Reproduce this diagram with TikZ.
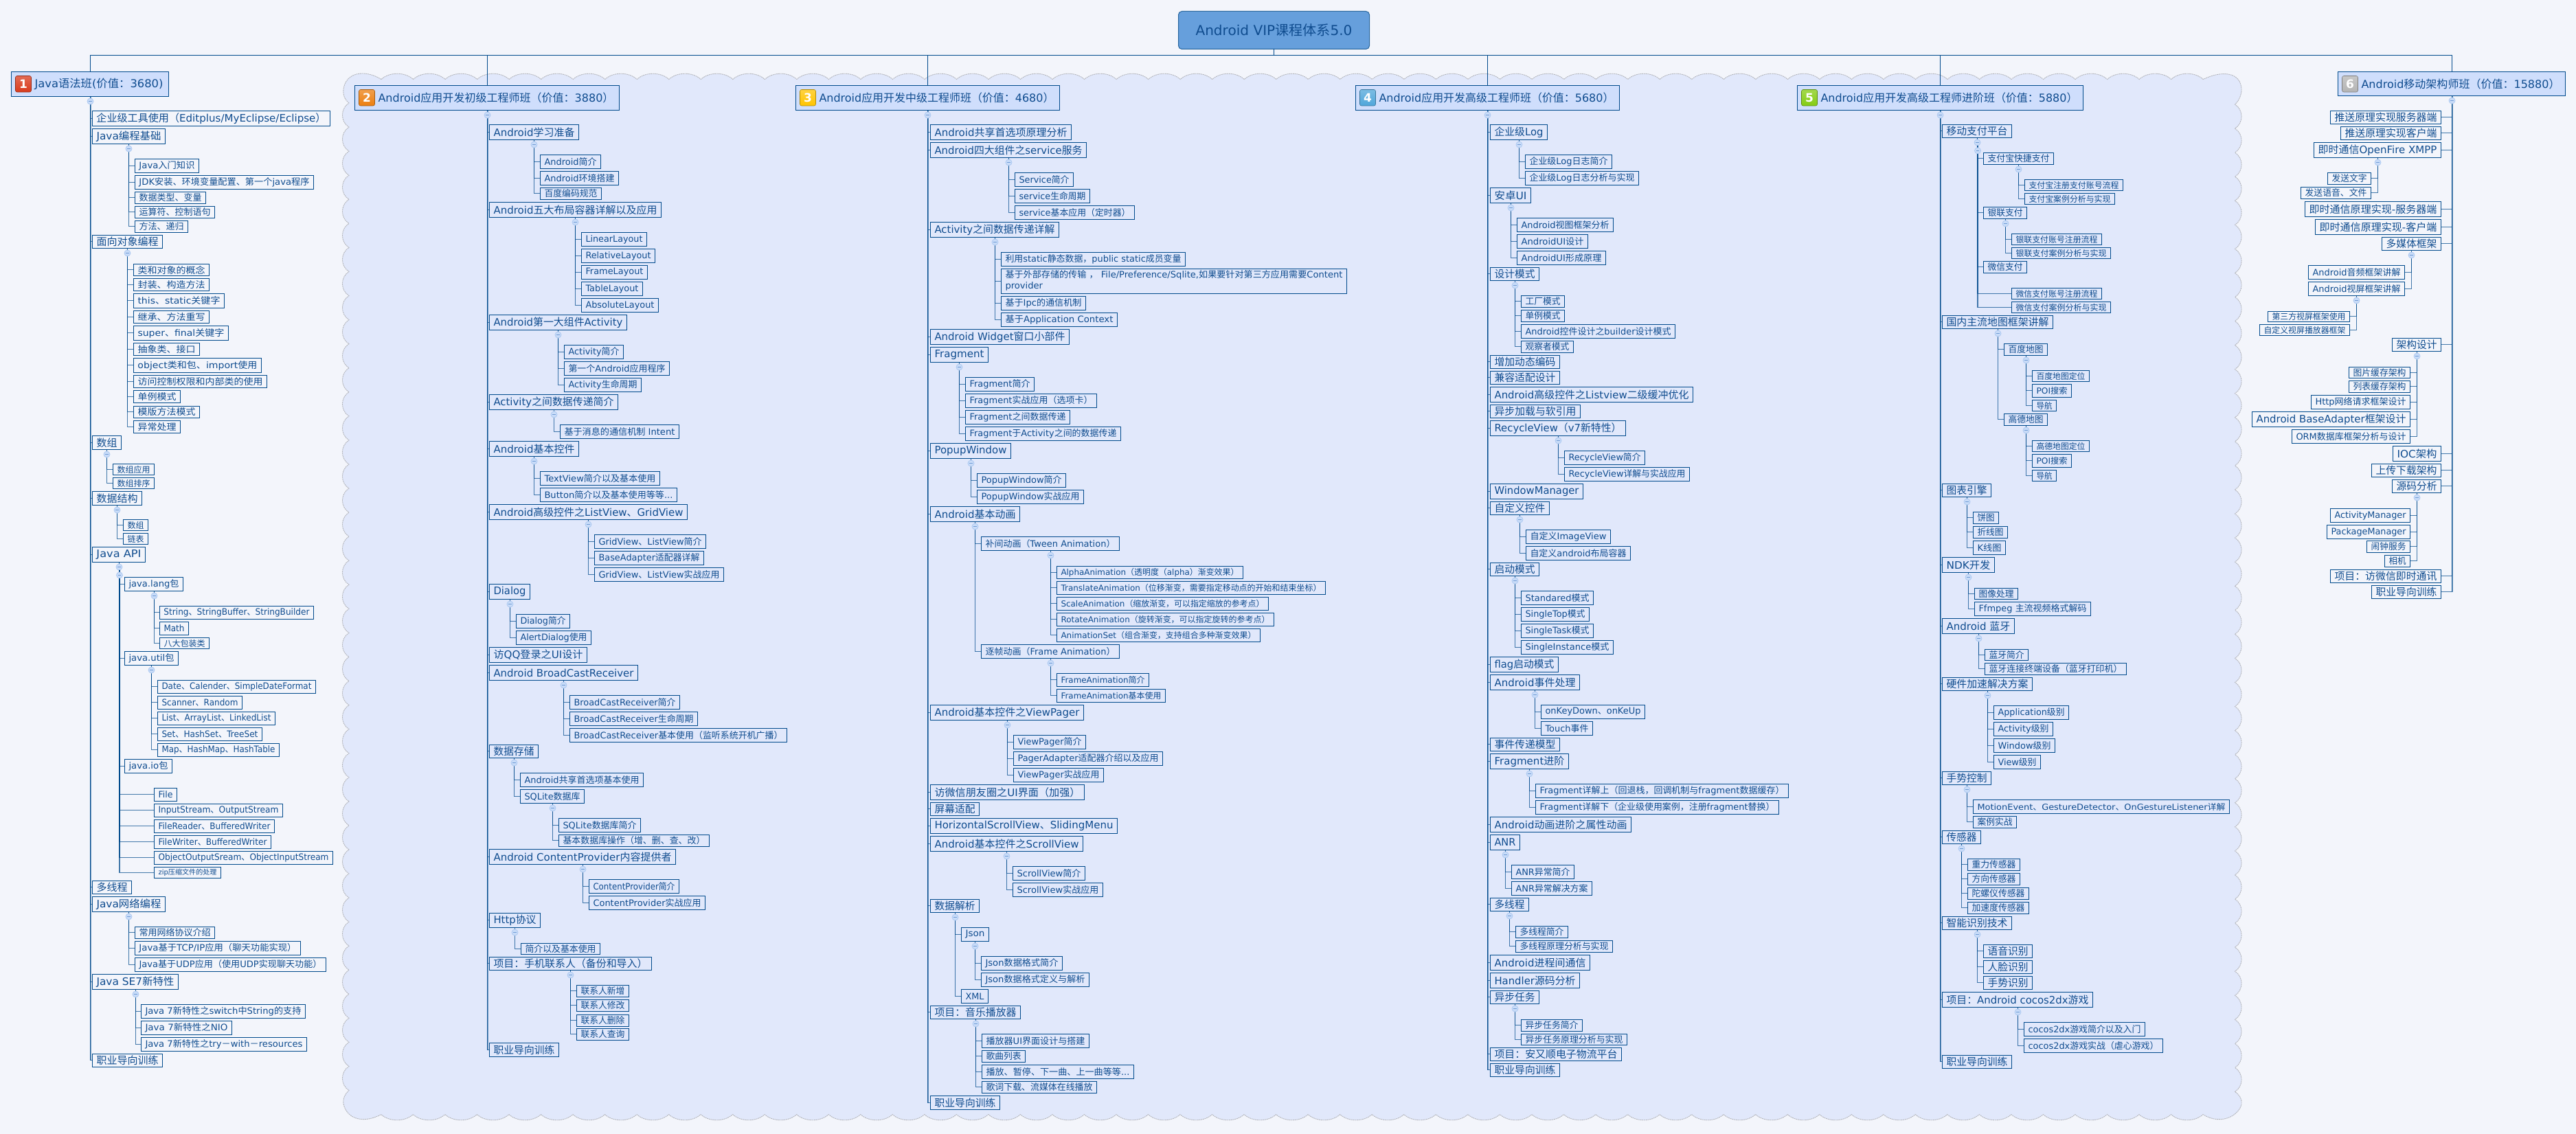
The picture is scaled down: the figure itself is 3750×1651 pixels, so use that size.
\documentclass[tikz,border=0pt]{standalone}
\usepackage{fontspec}
\usepackage{graphicx}
\usetikzlibrary{calc}
\setmainfont{DejaVu Sans}
\newfontfamily\lat{DejaVu Sans}
\newfontfamily\cjk{Noto Sans CJK SC}
\chardef\cjkcls=200
\count255="3000 \loop \XeTeXcharclass\count255=\cjkcls \ifnum\count255<"30FF \advance\count255 1 \repeat
\count255="4E00 \loop \XeTeXcharclass\count255=\cjkcls \ifnum\count255<"9FFF \advance\count255 1 \repeat
\count255="FF00 \loop \XeTeXcharclass\count255=\cjkcls \ifnum\count255<"FFEF \advance\count255 1 \repeat
\XeTeXinterchartokenstate=1
\XeTeXinterchartoks 0 \cjkcls={\cjk}
\XeTeXinterchartoks \cjkcls 0={\lat}
\XeTeXinterchartoks 4095 \cjkcls={\cjk}
\XeTeXinterchartoks \cjkcls 4095={\lat}
\definecolor{bgc}{HTML}{F3F5FB}
\definecolor{cloudf}{HTML}{E1E8FB}
\definecolor{cloudd}{HTML}{B4B6BC}
\definecolor{edge}{HTML}{004A8C}
\definecolor{txt}{HTML}{0F4C8F}
\definecolor{hfill}{HTML}{CFDEFC}
\definecolor{rootc}{HTML}{669FDC}
\definecolor{collb}{HTML}{A8C6F0}
\definecolor{collf}{HTML}{C9DCF8}
\definecolor{collm}{HTML}{6F9BD6}
\definecolor{ic1}{HTML}{D93A1C}
\definecolor{ic2}{HTML}{EC7F10}
\definecolor{ic3}{HTML}{FFC400}
\definecolor{ic4}{HTML}{4FA6DA}
\definecolor{ic5}{HTML}{84CC12}
\definecolor{ic6}{HTML}{B4B4B4}
\tikzset{
 bbox/.style={draw=edge,line width=1pt,anchor=north west,inner sep=0pt,outer sep=0pt,text=txt},
 hbox/.style={bbox,fill=hfill},
 rootbox/.style={draw=edge!85!white,line width=1pt,fill=rootc,rounded corners=5pt,anchor=north west,inner sep=0pt,outer sep=0pt,text=txt},
 icon/.style={draw=#1!70!black,line width=.6pt,rounded corners=2.5pt,anchor=north west,inner sep=0pt,outer sep=0pt,text=white,top color=#1!75!white,bottom color=#1},
 lnk/.style={draw=edge,line width=1.1pt,opacity=.72},
 lnkt/.style={draw=edge,line width=2pt,opacity=.55},
 busl/.style={draw=edge,line width=1pt},
 coll/.style={circle,minimum size=9pt,inner sep=0pt,draw=collb,fill=collf,line width=.7pt,
   path picture={\draw[collm,line width=.7pt] ([xshift=2.2pt]path picture bounding box.west) -- ([xshift=-2.2pt]path picture bounding box.east);}},
 cloudy/.style={fill=cloudf,draw=cloudd,line width=.9pt,dash pattern=on 2pt off .8pt}
}
\newcommand\fittext[3]{\begingroup\fontsize{#2}{\the\numexpr#2*6/5\relax}\selectfont\lat\resizebox{#1pt}{\height}{#3}\endgroup}
% snap a box to the pixel grid; remember how far its middle lies off the grid
\newcommand\snapbox[5]{%
 \pgfmathsetmacro\xa{floor(#2)+.5}\pgfmathsetmacro\ya{floor(#3)+.5}%
 \pgfmathsetmacro\xb{floor(#4)+.5}\pgfmathsetmacro\yb{floor(#5)+.5}%
 \pgfmathsetmacro\bw{\xb-\xa}\pgfmathsetmacro\bh{\yb-\ya}%
 \pgfmathsetmacro\sxv{ifthenelse(mod(\bw,2)>0.5,0.5,0)}%
 \pgfmathsetmacro\syv{ifthenelse(mod(\bh,2)>0.5,0.5,0)}%
 \expandafter\xdef\csname sx#1\endcsname{\sxv}%
 \expandafter\xdef\csname sy#1\endcsname{\syv}}
\newcommand\bx[7]{%
 \snapbox{#1}{#2}{#3}{#4}{#5}\pgfmathsetmacro\tw{\bw-12}%
 \node[bbox,minimum width=\bw pt,minimum height=\bh pt] (#1) at (\xa,\ya) {\fittext{\tw}{#6}{#7}};}
\newcommand\hd[8]{%
 \snapbox{#1}{#2}{#3}{#4}{#5}\pgfmathsetmacro\tw{\bw-42}%
 \node[hbox,minimum width=\bw pt,minimum height=\bh pt] (#1) at (\xa,\ya) {\makebox[\bw pt][l]{\hspace*{34pt}\fittext{\tw}{16}{#8}}};
 \node[icon=#6,minimum width=23pt,minimum height=23.5pt] (#1i) at ($(\xa,\ya)+(6,6)$) {\fontsize{17}{17}\selectfont\lat\bfseries #7};}
\newcommand\tiegen[4]{% parent, kids, kid anchor, extra trunk?
 \edef\sxx{\csname sx#1\endcsname}%
 \foreach \k in {#2}{%
   \edef\syy{\csname sy\k\endcsname}%
   \draw[lnk] ([xshift=\sxx pt]#1.south) |- ([yshift=\syy pt]\k.#3);
   \xdef\lastk{\k}}%
 \ifnum#4=1 \draw[lnkt] ([xshift=\sxx pt]#1.south) -- ([xshift=\sxx pt]#1.south |- \lastk.#3);\fi
 \path ([xshift=\sxx pt]#1.south) ++(0,7) node[coll] (#1c) {};}
\newcommand\tie[2]{\tiegen{#1}{#2}{west}{0}}
\newcommand\tiel[2]{\tiegen{#1}{#2}{east}{0}}
\newcommand\tietop[2]{\tiegen{#1}{#2}{west}{1}}
\newcommand\tietopl[2]{\tiegen{#1}{#2}{east}{1}}
\begin{document}
\begin{tikzpicture}[x=1pt,y=-1pt]
\useasboundingbox (0,0) rectangle (3750,1651);
\fill[bgc] (0,0) rectangle (3750,1651);
% cloud background
\path[cloudy] (555,115.5)
 \foreach \i in {1,...,57}{ .. controls +(12,-11) and +(-12,-11) .. ++(46.53,0) }
 .. controls (3235,102) and (3262,105) .. (3263,130) .. controls (3263,140) and (3258,148) .. (3253.5,152)
 \foreach \i in {1,...,41}{ .. controls +(12.7,8) and +(12.7,-8) .. ++(0,35.06) }
 .. controls (3260,1594) and (3264,1600) .. (3263,1607) .. controls (3261,1622) and (3235,1640) .. (3207,1622.5)
 \foreach \i in {1,...,57}{ .. controls +(-12,11) and +(12,11) .. ++(-46.53,0) }
 .. controls (530,1636) and (505,1630) .. (500,1607) .. controls (499,1598) and (503,1592) .. (508,1587.5)
 \foreach \i in {1,...,41}{ .. controls +(-12.7,-8) and +(-12.7,8) .. ++(0,-35.06) }
 .. controls (503,146) and (499,140) .. (500,130) .. controls (503,106) and (530,100) .. (555,115.5) -- cycle;
% root
\node[rootbox,minimum width=278pt,minimum height=55pt] (root) at (1715.5,16.5) {\fittext{228}{20}{Android VIP课程体系5.0}};
\coordinate (bus) at (1854.5,80.5);
% headers
\hd{h1}{16}{104}{245}{140}{ic1}{1}{Java语法班(价值：3680)}
\hd{h2}{516}{124}{901}{160}{ic2}{2}{Android应用开发初级工程师班（价值：3880）}
\hd{h3}{1158}{124}{1542.5}{160}{ic3}{3}{Android应用开发中级工程师班（价值：4680）}
\hd{h4}{1973}{124}{2357.5}{160}{ic4}{4}{Android应用开发高级工程师班（价值：5680）}
\hd{h5}{2616}{124}{3032}{160}{ic5}{5}{Android应用开发高级工程师进阶班（价值：5880）}
\hd{h6}{3403.5}{104}{3734}{139.5}{ic6}{6}{Android移动架构师班（价值：15880）}
\draw[busl] (root.south) -- (bus);
\foreach \h in {h1,h2,h3,h4,h5,h6}{\edef\sxx{\csname sx\h\endcsname}\draw[busl] (bus) -| ([xshift=\sxx pt]\h.north);}
% column 1
\bx{a1}{134}{161.5}{480}{183.5}{15}{企业级工具使用（Editplus/MyEclipse/Eclipse）}
\bx{a2}{134}{187.5}{240}{209.5}{15}{Java编程基础}
\bx{a2a}{196}{231.5}{289}{251.5}{13}{Java入门知识}
\bx{a2b}{196}{255.5}{456}{275.5}{13}{JDK安装、环境变量配置、第一个java程序}
\bx{a2c}{196}{279.5}{299}{296.5}{13}{数据类型、变量}
\bx{a2d}{196}{300}{312}{317.5}{13}{运算符、控制语句}
\bx{a2e}{196}{321.5}{273}{338.5}{13}{方法、递归}
\bx{a3}{134}{342.5}{236}{361.5}{15}{面向对象编程}
\bx{a3a}{194}{384}{304}{401.5}{13}{类和对象的概念}
\bx{a3b}{194}{405.5}{304}{423.5}{13}{封装、构造方法}
\bx{a3c}{194}{427.5}{326}{448.5}{13}{this、static关键字}
\bx{a3d}{194}{452.5}{304}{470.5}{13}{继承、方法重写}
\bx{a3e}{194}{474.5}{332}{495.5}{13}{super、final关键字}
\bx{a3f}{194}{499.5}{290}{517.5}{13}{抽象类、接口}
\bx{a3g}{194}{521.5}{380}{542.5}{13}{object类和包、import使用}
\bx{a3h}{194}{546.5}{388}{564}{13}{访问控制权限和内部类的使用}
\bx{a3i}{194}{568.5}{262}{586}{13}{单例模式}
\bx{a3j}{194}{591}{290}{608.5}{13}{模版方法模式}
\bx{a3k}{194}{612.5}{262}{630.5}{13}{异常处理}
\bx{a4}{134}{634.5}{176}{654}{15}{数组}
\bx{a4a}{164}{675}{224}{691.5}{12}{数组应用}
\bx{a4b}{164}{695}{224}{711.5}{12}{数组排序}
\bx{a5}{134}{715.5}{206}{735}{15}{数据结构}
\bx{a5a}{179}{756.5}{215}{772.5}{12}{数组}
\bx{a5b}{179}{776}{215}{792.5}{12}{链表}
\bx{a6}{134}{796.5}{211}{818.5}{15}{Java API}
\bx{a6a}{181}{840.5}{266}{860.5}{13}{java.lang包}
\bx{a6aa}{232}{882.5}{456}{901.5}{13}{String、StringBuffer、StringBuilder}
\bx{a6ab}{232}{905.5}{274}{924.5}{13}{Math}
\bx{a6ac}{232}{928}{304}{944.5}{12}{八大包装类}
\bx{a6b}{181}{948}{259}{968.5}{13}{java.util包}
\bx{a6ba}{229}{990.5}{459}{1009.5}{13}{Date、Calender、SimpleDateFormat}
\bx{a6bb}{229}{1013.5}{352}{1032.5}{13}{Scanner、Random}
\bx{a6bc}{229}{1036}{400}{1055.5}{13}{List、ArrayList、LinkedList}
\bx{a6bd}{229}{1059.5}{381}{1078.5}{13}{Set、HashSet、TreeSet}
\bx{a6be}{229}{1082.5}{406}{1101.5}{13}{Map、HashMap、HashTable}
\bx{a6c}{181}{1105.5}{250}{1125}{13}{java.io包}
\bx{a6ca}{224}{1147.5}{257}{1166.5}{13}{File}
\bx{a6cb}{224}{1170.5}{411}{1189.5}{13}{InputStream、OutputStream}
\bx{a6cc}{224}{1193}{399}{1212}{13}{FileReader、BufferedWriter}
\bx{a6cd}{224}{1216.5}{394}{1235.5}{13}{FileWriter、BufferedWriter}
\bx{a6ce}{224}{1239}{484}{1258}{13}{ObjectOutputSream、ObjectInputStream}
\bx{a6cf}{224}{1262}{321}{1278.5}{10}{zip压缩文件的处理}
\bx{a7}{134}{1282.5}{191}{1301.5}{15}{多线程}
\bx{a8}{134}{1305.5}{240}{1327.5}{15}{Java网络编程}
\bx{a8a}{196}{1349}{312}{1366.5}{13}{常用网络协议介绍}
\bx{a8b}{196}{1370.5}{437}{1390}{13}{Java基于TCP/IP应用（聊天功能实现）}
\bx{a8c}{196}{1394.5}{474}{1414}{13}{Java基于UDP应用（使用UDP实现聊天功能）}
\bx{a9}{134}{1418.5}{259}{1440.5}{15}{Java SE7新特性}
\bx{a9a}{205}{1462.5}{444}{1482.5}{13}{Java 7新特性之switch中String的支持}
\bx{a9b}{205}{1486}{337}{1506.5}{13}{Java 7新特性之NIO}
\bx{a9c}{205}{1510}{446}{1530}{13}{Java 7新特性之try－with－resources}
\bx{a10}{134}{1534.5}{236}{1553.5}{15}{职业导向训练}
\tietop{h1}{a1,a2,a3,a4,a5,a6,a7,a8,a9,a10}
\tie{a2}{a2a,a2b,a2c,a2d,a2e}
\tie{a3}{a3a,a3b,a3c,a3d,a3e,a3f,a3g,a3h,a3i,a3j,a3k}
\tie{a4}{a4a,a4b}
\tie{a5}{a5a,a5b}
\tie{a6}{a6a,a6b,a6c}
\tie{a6a}{a6aa,a6ab,a6ac}
\tie{a6b}{a6ba,a6bb,a6bc,a6bd,a6be}
\tie{a6c}{a6ca,a6cb,a6cc,a6cd,a6ce,a6cf}
\tie{a8}{a8a,a8b,a8c}
\tie{a9}{a9a,a9b,a9c}
% column 2
\bx{b1}{712.5}{181.5}{842.5}{203.5}{15}{Android学习准备}
\bx{b1a}{786}{225.5}{874.5}{245.5}{13}{Android简介}
\bx{b1b}{786}{249.5}{900.5}{269.5}{13}{Android环境搭建}
\bx{b1c}{786}{273.5}{875.5}{290}{13}{百度编码规范}
\bx{b2}{712.5}{294.5}{962.5}{316.5}{15}{Android五大布局容器详解以及应用}
\bx{b2a}{846.5}{338.5}{941.5}{358.5}{13}{LinearLayout}
\bx{b2b}{846.5}{362.5}{953.5}{382.5}{13}{RelativeLayout}
\bx{b2c}{846.5}{386.5}{942.5}{406.5}{13}{FrameLayout}
\bx{b2d}{846.5}{410.5}{935.5}{430.5}{13}{TableLayout}
\bx{b2e}{846.5}{434.5}{958.5}{454.5}{13}{AbsoluteLayout}
\bx{b3}{712.5}{458.5}{912.5}{480.5}{15}{Android第一大组件Activity}
\bx{b3a}{821.5}{502.5}{907.5}{522.5}{13}{Activity简介}
\bx{b3b}{821.5}{526.5}{974.5}{546.5}{13}{第一个Android应用程序}
\bx{b3c}{821.5}{550.5}{933.5}{570.5}{13}{Activity生命周期}
\bx{b4}{712.5}{574.5}{899.5}{596.5}{15}{Activity之间数据传递简介}
\bx{b4a}{815}{618.5}{988.5}{638.5}{13}{基于消息的通信机制 Intent}
\bx{b5}{712.5}{642.5}{842.5}{664.5}{15}{Android基本控件}
\bx{b5a}{786}{686.5}{960.5}{706.5}{13}{TextView简介以及基本使用}
\bx{b5b}{786}{710.5}{985.5}{730.5}{13}{Button简介以及基本使用等等...}
\bx{b6}{712.5}{734.5}{1000.5}{756.5}{15}{Android高级控件之ListView、GridView}
\bx{b6a}{865.5}{778.5}{1027.5}{798.5}{13}{GridView、ListView简介}
\bx{b6b}{865.5}{802.5}{1024.5}{822.5}{13}{BaseAdapter适配器详解}
\bx{b6c}{865.5}{826.5}{1053.5}{846.5}{13}{GridView、ListView实战应用}
\bx{b7}{712.5}{850.5}{771.5}{872.5}{15}{Dialog}
\bx{b7a}{751.5}{894.5}{829.5}{914.5}{13}{Dialog简介}
\bx{b7b}{751.5}{918.5}{860.5}{938.5}{13}{AlertDialog使用}
\bx{b8}{712.5}{942.5}{854.5}{964.5}{15}{访QQ登录之UI设计}
\bx{b9}{712.5}{968.5}{928.5}{990.5}{15}{Android BroadCastReceiver}
\bx{b9a}{829.5}{1012.5}{989.5}{1032.5}{13}{BroadCastReceiver简介}
\bx{b9b}{829.5}{1036.5}{1015.5}{1056.5}{13}{BroadCastReceiver生命周期}
\bx{b9c}{829.5}{1060.5}{1145.5}{1080.5}{13}{BroadCastReceiver基本使用（监听系统开机广播）}
\bx{b10}{712.5}{1084.5}{783.5}{1103.5}{15}{数据存储}
\bx{b10a}{757.5}{1125.5}{936.5}{1145.5}{13}{Android共享首选项基本使用}
\bx{b10b}{757.5}{1149.5}{850.5}{1169.5}{13}{SQLite数据库}
\bx{b10ba}{813.5}{1191.5}{932.5}{1211.5}{13}{SQLite数据库简介}
\bx{b10bb}{813.5}{1215.5}{1032.5}{1232.5}{13}{基本数据库操作（增、删、查、改）}
\bx{b11}{712.5}{1236.5}{983.5}{1258.5}{15}{Android ContentProvider内容提供者}
\bx{b11a}{857.5}{1280.5}{988.5}{1300.5}{13}{ContentProvider简介}
\bx{b11b}{857.5}{1304.5}{1026.5}{1324.5}{13}{ContentProvider实战应用}
\bx{b12}{712.5}{1329}{786.5}{1350.5}{15}{Http协议}
\bx{b12a}{758.5}{1373}{873.5}{1389.5}{13}{简介以及基本使用}
\bx{b13}{712.5}{1393.5}{948.5}{1412.5}{15}{项目：手机联系人（备份和导入）}
\bx{b13a}{839}{1434.5}{915.5}{1451.5}{13}{联系人新增}
\bx{b13b}{839}{1455.5}{915.5}{1472.5}{13}{联系人修改}
\bx{b13c}{839}{1477}{915.5}{1494}{13}{联系人删除}
\bx{b13d}{839}{1497.5}{915.5}{1514.5}{13}{联系人查询}
\bx{b14}{712.5}{1518.5}{813.5}{1538}{15}{职业导向训练}
\tietop{h2}{b1,b2,b3,b4,b5,b6,b7,b8,b9,b10,b11,b12,b13,b14}
\tie{b1}{b1a,b1b,b1c}
\tie{b2}{b2a,b2b,b2c,b2d,b2e}
\tie{b3}{b3a,b3b,b3c}
\tie{b4}{b4a}
\tie{b5}{b5a,b5b}
\tie{b6}{b6a,b6b,b6c}
\tie{b7}{b7a,b7b}
\tie{b9}{b9a,b9b,b9c}
\tie{b10}{b10a,b10b}
\tie{b10b}{b10ba,b10bb}
\tie{b11}{b11a,b11b}
\tie{b12}{b12a}
\tie{b13}{b13a,b13b,b13c,b13d}
% column 3
\bx{c1}{1354.5}{181.5}{1559}{203.5}{15}{Android共享首选项原理分析}
\bx{c2}{1354.5}{207.5}{1581.5}{229.5}{15}{Android四大组件之service服务}
\bx{c2a}{1477.5}{251.5}{1562.5}{271.5}{13}{Service简介}
\bx{c2b}{1477.5}{275.5}{1586.5}{295.5}{13}{service生命周期}
\bx{c2c}{1477.5}{299.5}{1651.5}{319.5}{13}{service基本应用（定时器）}
\bx{c3}{1354.5}{323.5}{1541.5}{345.5}{15}{Activity之间数据传递详解}
\bx{c3a}{1457.5}{367.5}{1725.5}{387.5}{13}{利用static静态数据，public static成员变量}
\bx{c3b}{1457.5}{391.5}{1960.5}{427.5}{13}{\begin{tabular}{@{}l@{}}基于外部存储的传输 ， File/Preference/Sqlite,如果要针对第三方应用需要Content\\provider\end{tabular}}
\bx{c3c}{1457.5}{431.5}{1580.5}{451.5}{13}{基于Ipc的通信机制}
\bx{c3d}{1457.5}{455.5}{1626.5}{475.5}{13}{基于Application Context}
\bx{c4}{1354.5}{479.5}{1556.5}{501.5}{15}{Android Widget窗口小部件}
\bx{c5}{1354.5}{505.5}{1438.5}{527.5}{15}{Fragment}
\bx{c5a}{1405.5}{549.5}{1505.5}{569.5}{13}{Fragment简介}
\bx{c5b}{1405.5}{573.5}{1596.5}{593.5}{13}{Fragment实战应用（选项卡）}
\bx{c5c}{1405.5}{597.5}{1557.5}{617.5}{13}{Fragment之间数据传递}
\bx{c5d}{1405.5}{621.5}{1631.5}{641.5}{13}{Fragment于Activity之间的数据传递}
\bx{c6}{1354.5}{645.5}{1471.5}{667.5}{15}{PopupWindow}
\bx{c6a}{1422.5}{689.5}{1551.5}{709.5}{13}{PopupWindow简介}
\bx{c6b}{1422.5}{713.5}{1577.5}{733.5}{13}{PopupWindow实战应用}
\bx{c7}{1354.5}{737.5}{1484.5}{759.5}{15}{Android基本动画}
\bx{c7a}{1428.5}{781.5}{1629}{801.5}{13}{补间动画（Tween Animation）}
\bx{c7aa}{1538.5}{824}{1809.5}{842.5}{12}{AlphaAnimation（透明度（alpha）渐变效果）}
\bx{c7ab}{1538.5}{846.5}{1929.5}{865.5}{12}{TranslateAnimation（位移渐变，需要指定移动点的开始和结束坐标）}
\bx{c7ac}{1538.5}{869.5}{1846.5}{888.5}{12}{ScaleAnimation（缩放渐变，可以指定缩放的参考点）}
\bx{c7ad}{1538.5}{892.5}{1854.5}{911.5}{12}{RotateAnimation（旋转渐变，可以指定旋转的参考点）}
\bx{c7ae}{1538.5}{915.5}{1834.5}{934.5}{12}{AnimationSet（组合渐变，支持组合多种渐变效果）}
\bx{c7b}{1428.5}{938.5}{1629}{958.5}{13}{逐帧动画（Frame Animation）}
\bx{c7ba}{1538.5}{980.5}{1672.5}{999.5}{12}{FrameAnimation简介}
\bx{c7bb}{1538.5}{1003.5}{1696.5}{1022.5}{12}{FrameAnimation基本使用}
\bx{c8}{1354.5}{1026.5}{1577.5}{1048.5}{15}{Android基本控件之ViewPager}
\bx{c8a}{1475}{1070.5}{1580.5}{1090.5}{13}{ViewPager简介}
\bx{c8b}{1475}{1094.5}{1692.5}{1114.5}{13}{PagerAdapter适配器介绍以及应用}
\bx{c8c}{1475}{1118.5}{1606.5}{1138.5}{13}{ViewPager实战应用}
\bx{c9}{1354.5}{1142.5}{1578}{1164.5}{15}{访微信朋友圈之UI界面（加强）}
\bx{c10}{1354.5}{1168.5}{1425.5}{1187.5}{15}{屏幕适配}
\bx{c11}{1354.5}{1191.5}{1626.5}{1213.5}{15}{HorizontalScrollView、SlidingMenu}
\bx{c12}{1354.5}{1217.5}{1576.5}{1239.5}{15}{Android基本控件之ScrollView}
\bx{c12a}{1474.5}{1261.5}{1579.5}{1281.5}{13}{ScrollView简介}
\bx{c12b}{1474.5}{1285.5}{1605.5}{1305.5}{13}{ScrollView实战应用}
\bx{c13}{1354.5}{1309.5}{1425.5}{1328.5}{15}{数据解析}
\bx{c13a}{1399.5}{1350.5}{1439.5}{1370.5}{13}{Json}
\bx{c13aa}{1428.5}{1392.5}{1546}{1412.5}{13}{Json数据格式简介}
\bx{c13ab}{1428.5}{1416.5}{1585}{1436.5}{13}{Json数据格式定义与解析}
\bx{c13b}{1399.5}{1440.5}{1438.5}{1460.5}{13}{XML}
\bx{c14}{1354.5}{1464.5}{1485.5}{1483.5}{15}{项目：音乐播放器}
\bx{c14a}{1429.5}{1505.5}{1585}{1525.5}{13}{播放器UI界面设计与搭建}
\bx{c14b}{1429.5}{1529.5}{1492.5}{1546}{13}{歌曲列表}
\bx{c14c}{1429.5}{1550.5}{1650.5}{1570.5}{13}{播放、暂停、下一曲、上一曲等等...}
\bx{c14d}{1429.5}{1574.5}{1596.5}{1591}{13}{歌词下载、流媒体在线播放}
\bx{c15}{1354.5}{1595.5}{1455}{1615}{15}{职业导向训练}
\tietop{h3}{c1,c2,c3,c4,c5,c6,c7,c8,c9,c10,c11,c12,c13,c14,c15}
\tie{c2}{c2a,c2b,c2c}
\tie{c3}{c3a,c3b,c3c,c3d}
\tie{c5}{c5a,c5b,c5c,c5d}
\tie{c6}{c6a,c6b}
\tie{c7}{c7a,c7b}
\tie{c7a}{c7aa,c7ab,c7ac,c7ad,c7ae}
\tie{c7b}{c7ba,c7bb}
\tie{c8}{c8a,c8b,c8c}
\tie{c12}{c12a,c12b}
\tie{c13}{c13a,c13b}
\tie{c13a}{c13aa,c13ab}
\tie{c14}{c14a,c14b,c14c,c14d}
% column 4
\bx{d1}{2169.5}{181.5}{2252.5}{203.5}{15}{企业级Log}
\bx{d1a}{2220.5}{225.5}{2346.5}{245.5}{13}{企业级Log日志简介}
\bx{d1b}{2220.5}{249.5}{2385.5}{269.5}{13}{企业级Log日志分析与实现}
\bx{d2}{2169.5}{273.5}{2228.5}{295.5}{15}{安卓UI}
\bx{d2a}{2208.5}{317.5}{2348.5}{337.5}{13}{Android视图框架分析}
\bx{d2b}{2208.5}{341.5}{2311.5}{361.5}{13}{AndroidUI设计}
\bx{d2c}{2208.5}{365.5}{2337.5}{385.5}{13}{AndroidUI形成原理}
\bx{d3}{2169.5}{389.5}{2240.5}{408.5}{15}{设计模式}
\bx{d3a}{2214.5}{430.5}{2277.5}{447.5}{13}{工厂模式}
\bx{d3b}{2214.5}{451.5}{2277.5}{468.5}{13}{单例模式}
\bx{d3c}{2214.5}{472.5}{2438.5}{492.5}{13}{Android控件设计之builder设计模式}
\bx{d3d}{2214.5}{496.5}{2290.5}{513.5}{13}{观察者模式}
\bx{d4}{2169.5}{517.5}{2270.5}{536.5}{15}{增加动态编码}
\bx{d5}{2169.5}{540.5}{2270.5}{559.5}{15}{兼容适配设计}
\bx{d6}{2169.5}{563.5}{2464.5}{585.5}{15}{Android高级控件之Listview二级缓冲优化}
\bx{d7}{2169.5}{589.5}{2300.5}{608.5}{15}{异步加载与软引用}
\bx{d8}{2169.5}{612.5}{2366.5}{634.5}{15}{RecycleView（v7新特性）}
\bx{d8a}{2277.5}{656.5}{2394.5}{676.5}{13}{RecycleView简介}
\bx{d8b}{2277.5}{680.5}{2459.5}{700.5}{13}{RecycleView详解与实战应用}
\bx{d9}{2169.5}{704.5}{2304.5}{726.5}{15}{WindowManager}
\bx{d10}{2169.5}{730.5}{2255.5}{749.5}{15}{自定义控件}
\bx{d10a}{2221.5}{771.5}{2344.5}{791.5}{13}{自定义ImageView}
\bx{d10b}{2221.5}{795.5}{2373.5}{815.5}{13}{自定义android布局容器}
\bx{d11}{2169.5}{819.5}{2240.5}{838.5}{15}{启动模式}
\bx{d11a}{2214.5}{860.5}{2319.5}{880.5}{13}{Standared模式}
\bx{d11b}{2214.5}{884.5}{2313.5}{904.5}{13}{SingleTop模式}
\bx{d11c}{2214.5}{908.5}{2319.5}{928.5}{13}{SingleTask模式}
\bx{d11d}{2214.5}{932.5}{2348.5}{952.5}{13}{SingleInstance模式}
\bx{d12}{2169.5}{956.5}{2268.5}{978.5}{15}{flag启动模式}
\bx{d13}{2169.5}{982.5}{2299.5}{1004.5}{15}{Android事件处理}
\bx{d13a}{2243.5}{1026.5}{2394.5}{1046.5}{13}{onKeyDown、onKeUp}
\bx{d13b}{2243.5}{1050.5}{2318.5}{1070.5}{13}{Touch事件}
\bx{d14}{2169.5}{1074.5}{2270.5}{1093.5}{15}{事件传递模型}
\bx{d15}{2169.5}{1097.5}{2283.5}{1119.5}{15}{Fragment进阶}
\bx{d15a}{2235.5}{1141.5}{2603}{1161.5}{13}{Fragment详解上（回退栈，回调机制与fragment数据缓存）}
\bx{d15b}{2235.5}{1165.5}{2589.5}{1185.5}{13}{Fragment详解下（企业级使用案例，注册fragment替换）}
\bx{d16}{2169.5}{1189.5}{2374.5}{1211.5}{15}{Android动画进阶之属性动画}
\bx{d17}{2169.5}{1215.5}{2212.5}{1237.5}{15}{ANR}
\bx{d17a}{2200.5}{1259.5}{2291.5}{1279.5}{13}{ANR异常简介}
\bx{d17b}{2200.5}{1283.5}{2317.5}{1303.5}{13}{ANR异常解决方案}
\bx{d18}{2169.5}{1307.5}{2225.5}{1326.5}{15}{多线程}
\bx{d18a}{2206.5}{1348.5}{2282.5}{1365.5}{13}{多线程简介}
\bx{d18b}{2206.5}{1369.5}{2347.5}{1386.5}{13}{多线程原理分析与实现}
\bx{d19}{2169.5}{1390.5}{2314.5}{1412.5}{15}{Android进程间通信}
\bx{d20}{2169.5}{1416.5}{2299.5}{1438.5}{15}{Handler源码分析}
\bx{d21}{2169.5}{1442.5}{2240.5}{1461.5}{15}{异步任务}
\bx{d21a}{2214.5}{1484}{2303.5}{1501}{13}{异步任务简介}
\bx{d21b}{2214.5}{1505}{2368.5}{1521.5}{13}{异步任务原理分析与实现}
\bx{d22}{2169.5}{1525.5}{2360.5}{1544.5}{15}{项目：安又顺电子物流平台}
\bx{d23}{2169.5}{1548.5}{2270.5}{1567.5}{15}{职业导向训练}
\tietop{h4}{d1,d2,d3,d4,d5,d6,d7,d8,d9,d10,d11,d12,d13,d14,d15,d16,d17,d18,d19,d20,d21,d22,d23}
\tie{d1}{d1a,d1b}
\tie{d2}{d2a,d2b,d2c}
\tie{d3}{d3a,d3b,d3c,d3d}
\tie{d8}{d8a,d8b}
\tie{d10}{d10a,d10b}
\tie{d11}{d11a,d11b,d11c,d11d}
\tie{d13}{d13a,d13b}
\tie{d15}{d15a,d15b}
\tie{d17}{d17a,d17b}
\tie{d18}{d18a,d18b}
\tie{d21}{d21a,d21b}
% column 5
\bx{e1}{2827.5}{181.5}{2928.5}{200.5}{15}{移动支付平台}
\bx{e1a}{2887.5}{222.5}{2989.5}{239.5}{13}{支付宝快捷支付}
\bx{e1aa}{2947.5}{261.5}{3090.5}{277.5}{12}{支付宝注册支付账号流程}
\bx{e1ab}{2947.5}{281.5}{3078.5}{297.5}{12}{支付宝案例分析与实现}
\bx{e1b}{2887.5}{301.5}{2950.5}{318.5}{13}{银联支付}
\bx{e1ba}{2928}{340.5}{3059.5}{356.5}{12}{银联支付账号注册流程}
\bx{e1bb}{2928}{360.5}{3072}{376.5}{12}{银联支付案例分析与实现}
\bx{e1c}{2887.5}{380.5}{2950.5}{397.5}{13}{微信支付}
\bx{e1ca}{2928}{419.5}{3059.5}{435.5}{12}{微信支付账号注册流程}
\bx{e1cb}{2928}{439.5}{3072}{455.5}{12}{微信支付案例分析与实现}
\bx{e2}{2827.5}{459.5}{2988.5}{478.5}{15}{国内主流地图框架讲解}
\bx{e2a}{2917.5}{500.5}{2980.5}{517.5}{13}{百度地图}
\bx{e2aa}{2958}{539.5}{3041.5}{555.5}{12}{百度地图定位}
\bx{e2ab}{2958}{559.5}{3015.5}{578.5}{12}{POI搜索}
\bx{e2ac}{2958}{582.5}{2993.5}{598.5}{12}{导航}
\bx{e2b}{2917.5}{602.5}{2980.5}{619.5}{13}{高德地图}
\bx{e2ba}{2958}{641.5}{3041.5}{657.5}{12}{高德地图定位}
\bx{e2bb}{2958}{661.5}{3015.5}{680.5}{12}{POI搜索}
\bx{e2bc}{2958}{684.5}{2993.5}{700.5}{12}{导航}
\bx{e3}{2827.5}{704.5}{2898.5}{723.5}{15}{图表引擎}
\bx{e3a}{2872.5}{745.5}{2909.5}{762.5}{13}{饼图}
\bx{e3b}{2872.5}{766.5}{2922.5}{783.5}{13}{折线图}
\bx{e3c}{2872.5}{787.5}{2919.5}{807.5}{13}{K线图}
\bx{e4}{2827.5}{811.5}{2903}{833.5}{15}{NDK开发}
\bx{e4a}{2874.5}{856}{2937.5}{872.5}{13}{图像处理}
\bx{e4b}{2874.5}{876.5}{3043.5}{896.5}{13}{Ffmpeg 主流视频格式解码}
\bx{e5}{2827.5}{900.5}{2932.5}{922.5}{15}{Android 蓝牙}
\bx{e5a}{2889.5}{945}{2952.5}{961.5}{13}{蓝牙简介}
\bx{e5b}{2889.5}{965.5}{3095.5}{982.5}{13}{蓝牙连接终端设备（蓝牙打印机）}
\bx{e6}{2827.5}{986.5}{2958.5}{1005.5}{15}{硬件加速解决方案}
\bx{e6a}{2902.5}{1027.5}{3011.5}{1047.5}{13}{Application级别}
\bx{e6b}{2902.5}{1051.5}{2988.5}{1071.5}{13}{Activity级别}
\bx{e6c}{2902.5}{1075.5}{2991.5}{1095.5}{13}{Window级别}
\bx{e6d}{2902.5}{1099.5}{2970.5}{1119.5}{13}{View级别}
\bx{e7}{2827.5}{1123.5}{2898.5}{1142.5}{15}{手势控制}
\bx{e7a}{2872.5}{1164.5}{3245.5}{1184.5}{12}{MotionEvent、GestureDetector、OnGestureListener详解}
\bx{e7b}{2872.5}{1188.5}{2935.5}{1205.5}{13}{案例实战}
\bx{e8}{2827.5}{1209.5}{2883.5}{1228.5}{15}{传感器}
\bx{e8a}{2864.5}{1250.5}{2940.5}{1267.5}{13}{重力传感器}
\bx{e8b}{2864.5}{1271.5}{2940.5}{1288.5}{13}{方向传感器}
\bx{e8c}{2864.5}{1292.5}{2953.5}{1309.5}{13}{陀螺仪传感器}
\bx{e8d}{2864.5}{1313.5}{2953.5}{1330.5}{13}{加速度传感器}
\bx{e9}{2827.5}{1334.5}{2928.5}{1353.5}{15}{智能识别技术}
\bx{e9a}{2887.5}{1375.5}{2958.5}{1394.5}{15}{语音识别}
\bx{e9b}{2887.5}{1398.5}{2958.5}{1417.5}{15}{人脸识别}
\bx{e9c}{2887.5}{1421.5}{2958.5}{1440.5}{15}{手势识别}
\bx{e10}{2827.5}{1444.5}{3046.5}{1466.5}{15}{项目：Android cocos2dx游戏}
\bx{e10a}{2946.5}{1488.5}{3122.5}{1508.5}{13}{cocos2dx游戏简介以及入门}
\bx{e10b}{2946.5}{1512.5}{3148.5}{1532.5}{13}{cocos2dx游戏实战（虐心游戏）}
\bx{e11}{2827.5}{1536.5}{2928.5}{1555.5}{15}{职业导向训练}
\tietop{h5}{e1,e2,e3,e4,e5,e6,e7,e8,e9,e10,e11}
\tie{e1}{e1a,e1b,e1c}
\tie{e1a}{e1aa,e1ab}
\tie{e1b}{e1ba,e1bb}
\tie{e1c}{e1ca,e1cb}
\tie{e2}{e2a,e2b}
\tie{e2a}{e2aa,e2ab,e2ac}
\tie{e2b}{e2ba,e2bb,e2bc}
\tie{e3}{e3a,e3b,e3c}
\tie{e4}{e4a,e4b}
\tie{e5}{e5a,e5b}
\tie{e6}{e6a,e6b,e6c,e6d}
\tie{e7}{e7a,e7b}
\tie{e8}{e8a,e8b,e8c,e8d}
\tie{e9}{e9a,e9b,e9c}
\tie{e10}{e10a,e10b}
% column 6
\bx{f1}{3392.5}{161.5}{3553.5}{180.5}{15}{推送原理实现服务器端}
\bx{f2}{3407.5}{184}{3553.5}{203.5}{15}{推送原理实现客户端}
\bx{f3}{3368.5}{207.5}{3553.5}{229.5}{15}{即时通信OpenFire XMPP}
\bx{f3a}{3388.5}{251.5}{3451.5}{268.5}{13}{发送文字}
\bx{f3b}{3349.5}{272.5}{3451.5}{289.5}{13}{发送语音、文件}
\bx{f4}{3355.5}{293.5}{3553.5}{315.5}{15}{即时通信原理实现-服务器端}
\bx{f5}{3370.5}{319.5}{3553.5}{341.5}{15}{即时通信原理实现-客户端}
\bx{f6}{3467.5}{345.5}{3553.5}{364.5}{15}{多媒体框架}
\bx{f6a}{3360.5}{386.5}{3500.5}{406.5}{13}{Android音频框架讲解}
\bx{f6b}{3360.5}{410.5}{3500.5}{430.5}{13}{Android视屏框架讲解}
\bx{f6ba}{3301.5}{453}{3420.5}{468.5}{12}{第三方视屏框架使用}
\bx{f6bb}{3289.5}{472}{3420.5}{488.5}{12}{自定义视屏播放器框架}
\bx{f7}{3482.5}{492.5}{3553.5}{511.5}{15}{架构设计}
\bx{f7a}{3419.5}{534}{3508.5}{550.5}{13}{图片缓存架构}
\bx{f7b}{3419.5}{554.5}{3508.5}{571}{13}{列表缓存架构}
\bx{f7c}{3364.5}{575.5}{3508.5}{595}{13}{Http网络请求框架设计}
\bx{f7d}{3278.5}{599.5}{3508.5}{621.5}{15}{Android BaseAdapter框架设计}
\bx{f7e}{3336.5}{625.5}{3508.5}{645.5}{13}{ORM数据库框架分析与设计}
\bx{f8}{3483.5}{649.5}{3553.5}{671.5}{15}{IOC架构}
\bx{f9}{3452.5}{675.5}{3553.5}{694.5}{15}{上传下载架构}
\bx{f10}{3482.5}{698.5}{3553.5}{717.5}{15}{源码分析}
\bx{f10a}{3392.5}{740}{3508.5}{760}{13}{ActivityManager}
\bx{f10b}{3387.5}{764}{3508.5}{784}{13}{PackageManager}
\bx{f10c}{3445.5}{787.5}{3508.5}{804.5}{13}{闹钟服务}
\bx{f10d}{3471.5}{808.5}{3508.5}{825}{13}{相机}
\bx{f11}{3392.5}{829.5}{3553.5}{848.5}{15}{项目：访微信即时通讯}
\bx{f12}{3452.5}{852}{3553.5}{871}{15}{职业导向训练}
\tietopl{h6}{f1,f2,f3,f4,f5,f6,f7,f8,f9,f10,f11,f12}
\tiel{f3}{f3a,f3b}
\tiel{f6}{f6a,f6b}
\tiel{f6b}{f6ba,f6bb}
\tiel{f7}{f7a,f7b,f7c,f7d,f7e}
\tiel{f10}{f10a,f10b,f10c,f10d}
\end{tikzpicture}
\end{document}
